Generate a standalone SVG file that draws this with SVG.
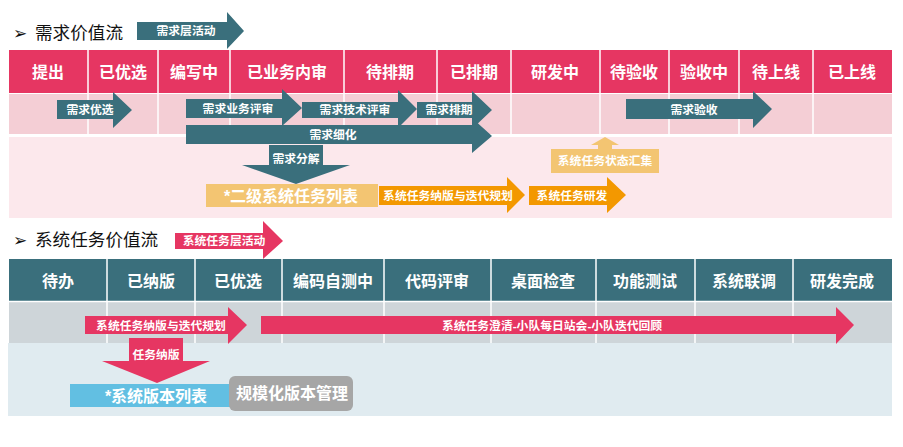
<svg xmlns="http://www.w3.org/2000/svg" width="903" height="447" viewBox="0 0 903 447">
<style>
text{font-family:"Liberation Sans","Noto Sans CJK SC",sans-serif;text-anchor:middle;dominant-baseline:central}
.hd{fill:#fff;font-size:16px;font-weight:bold}
.lb{fill:#fff;font-size:11.8px;font-weight:bold}
.bg{fill:#fff;font-size:16px;font-weight:bold}
.ttl{fill:#111;font-size:17.6px;text-anchor:start}
.bul{fill:#111;font-size:17px;text-anchor:start;font-family:"DejaVu Sans",sans-serif}
.teal{fill:#3A6F7C}
.red{fill:#E63662}
.org{fill:#F39800}
.lor{fill:#F3C572}
.sep{stroke:#fff;stroke-width:1.5}
</style>
<rect width="903" height="447" fill="#fff"/>

<!-- Section 1 -->
<g id="title1">
<text class="bul" x="13" y="33">➢</text>
<text class="ttl" x="35" y="33">需求价值流</text>
</g>
<g id="layer1">
<path class="teal" d="M137,22H227V12L244,31L227,49V40H137Z"/>
<text class="lb" x="186" y="31">需求层活动</text>
</g>

<g id="table1">
<rect x="9" y="50" width="883" height="43" fill="#E63662"/>
<rect x="9" y="94" width="883" height="40" fill="#F4CED5"/>
<rect x="9" y="137" width="883" height="81" fill="#FCE8EC"/>
<g class="sep">
<line x1="88" y1="50" x2="88" y2="134"/>
<line x1="158" y1="50" x2="158" y2="134"/>
<line x1="230" y1="50" x2="230" y2="134"/>
<line x1="344" y1="50" x2="344" y2="134"/>
<line x1="437" y1="50" x2="437" y2="134"/>
<line x1="511" y1="50" x2="511" y2="134"/>
<line x1="600" y1="50" x2="600" y2="134"/>
<line x1="669" y1="50" x2="669" y2="134"/>
<line x1="739" y1="50" x2="739" y2="134"/>
<line x1="813" y1="50" x2="813" y2="134"/>
</g>
<g id="s1-cells">
<text class="hd" x="48" y="72">提出</text>
<text class="hd" x="123" y="72">已优选</text>
<text class="hd" x="194" y="72">编写中</text>
<text class="hd" x="287" y="72">已业务内审</text>
<text class="hd" x="390" y="72">待排期</text>
<text class="hd" x="474" y="72">已排期</text>
<text class="hd" x="555" y="72">研发中</text>
<text class="hd" x="634" y="72">待验收</text>
<text class="hd" x="704" y="72">验收中</text>
<text class="hd" x="776" y="72">待上线</text>
<text class="hd" x="852" y="72">已上线</text>
</g>
</g>

<g id="connectors1">
<g id="a-xqyx"><path class="teal" d="M57,100H113V92L132,110L113,128V119H57Z"/><text class="lb" x="90" y="110">需求优选</text></g>
<g id="a-ywps"><path class="teal" d="M186,99H282V89L302,108L282,126V118H186Z"/><text class="lb" x="238" y="109">需求业务评审</text></g>
<g id="a-jsps"><path class="teal" d="M302,102H398V90L417,109L398,128V118H302Z"/><text class="lb" x="355" y="110">需求技术评审</text></g>
<g id="a-xqpq"><path class="teal" d="M417,102H472V91L492,110L472,129V118H417Z"/><text class="lb" x="449" y="110">需求排期</text></g>
<g id="a-xqxh"><path class="teal" d="M186,125H472V118L492,136L472,153V144H186Z"/><text class="lb" x="333" y="135">需求细化</text></g>
<g id="a-xqys"><path class="teal" d="M626,99H753V91L772,109L753,128V119H626Z"/><text class="lb" x="694" y="110">需求验收</text></g>
<g id="a-xqfj"><path class="teal" d="M269,145H323V165H350L296,184L242,165H269Z"/><text class="lb" x="296" y="159">需求分解</text></g>
<g id="a-nb1"><path class="org" d="M379,186H507V177L525,195L507,213V205H379Z"/><text class="lb" x="448" y="196">系统任务纳版与迭代规划</text></g>
<g id="a-yf"><path class="org" d="M529,186H607V177L626,195L607,213V205H529Z"/><text class="lb" x="572" y="196">系统任务研发</text></g>
<g id="a-up"><path class="lor" d="M605,137L619,145H612V150H598V145H591Z"/></g>
</g>

<g id="n-ejlb">
<rect class="lor" x="206" y="184" width="172" height="23"/>
<text class="bg" x="291" y="196">*二级系统任务列表</text>
</g>
<g id="n-zthj">
<rect class="lor" x="551" y="149" width="108" height="24"/>
<text class="lb" x="605" y="161">系统任务状态汇集</text>
</g>

<!-- Section 2 -->
<g id="title2">
<text class="bul" x="13" y="240">➢</text>
<text class="ttl" x="35" y="240">系统任务价值流</text>
</g>
<g id="layer2">
<path class="red" d="M175,233H263V221L283,241L263,259V249H175Z"/>
<text class="lb" x="224" y="241">系统任务层活动</text>
</g>

<g id="table2">
<rect x="9" y="259" width="883" height="42" fill="#3A6F7C"/>
<rect x="9" y="302" width="883" height="41" fill="#CED5D9"/>
<rect x="8" y="343" width="884" height="73" fill="#E0EBF0"/>
<g class="sep">
<line x1="107" y1="259" x2="107" y2="343"/>
<line x1="195" y1="259" x2="195" y2="343"/>
<line x1="282" y1="259" x2="282" y2="343"/>
<line x1="384" y1="259" x2="384" y2="343"/>
<line x1="491" y1="259" x2="491" y2="343"/>
<line x1="596" y1="259" x2="596" y2="343"/>
<line x1="695" y1="259" x2="695" y2="343"/>
<line x1="793" y1="259" x2="793" y2="343"/>
<line x1="9" y1="301.5" x2="892" y2="301.5"/>
</g>
<g id="s2-cells">
<text class="hd" x="58" y="281">待办</text>
<text class="hd" x="151" y="281">已纳版</text>
<text class="hd" x="238" y="281">已优选</text>
<text class="hd" x="333" y="281">编码自测中</text>
<text class="hd" x="437" y="281">代码评审</text>
<text class="hd" x="543" y="281">桌面检查</text>
<text class="hd" x="645" y="281">功能测试</text>
<text class="hd" x="744" y="281">系统联调</text>
<text class="hd" x="842" y="281">研发完成</text>
</g>
</g>

<g id="connectors2">
<g id="a-nb2"><path class="red" d="M85,316H228V307L247,325L228,344V334H85Z"/><text class="lb" x="161" y="326">系统任务纳版与迭代规划</text></g>
<g id="a-cq"><path class="red" d="M261,316H836V307L854,325L836,344V334H261Z"/><text class="lb" x="552" y="326">系统任务澄清-小队每日站会-小队迭代回顾</text></g>
<g id="a-rwnb"><path class="red" d="M129,338H183V361H210L157,383L102,361H129Z"/><text class="lb" x="156" y="355">任务纳版</text></g>
</g>

<g id="n-bblb">
<rect x="70" y="384" width="160" height="23" fill="#62BFE2"/>
<text class="bg" x="156" y="396">*系统版本列表</text>
</g>
<g id="n-gmh">
<rect x="229" y="376" width="124" height="35" rx="6" fill="#A6A6A6"/>
<text class="bg" x="292" y="393">规模化版本管理</text>
</g>
</svg>
